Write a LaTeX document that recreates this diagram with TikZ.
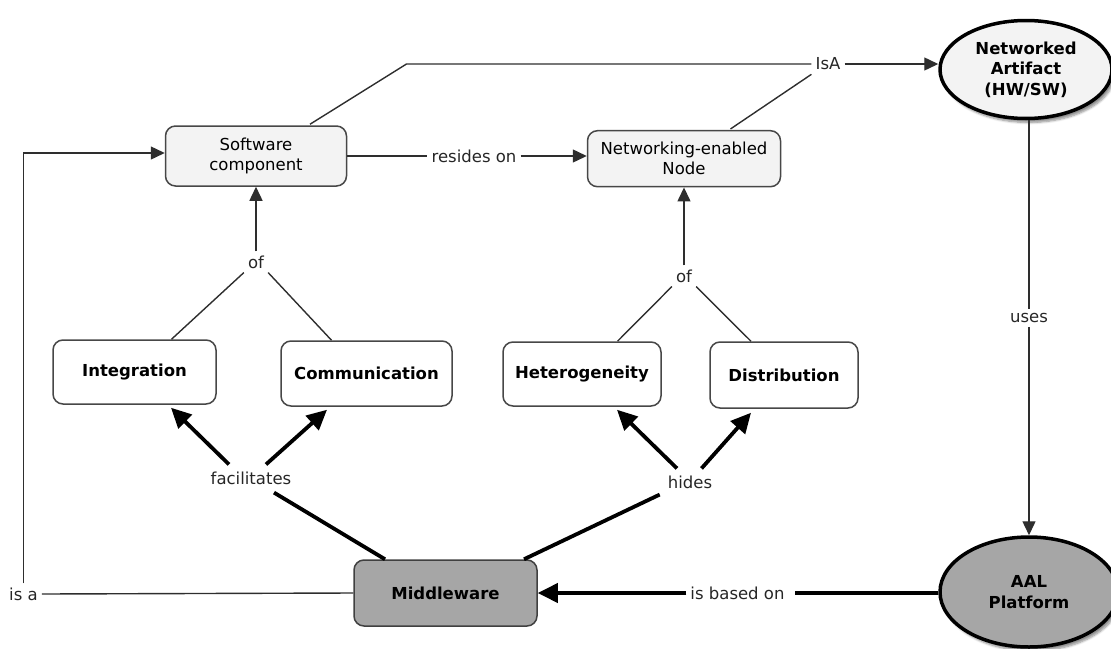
\documentclass[tikz,border=0pt]{standalone}
\usepackage{fontspec}
\setmainfont{DejaVu Sans}
\usetikzlibrary{arrows.meta,calc,shapes.geometric,shadows.blur}

\definecolor{linkgray}{HTML}{2E2E2E}
\definecolor{textgray}{HTML}{262626}
\definecolor{paper}{HTML}{F3F3F3}
\definecolor{darkfill}{HTML}{A6A6A6}
\definecolor{boxline}{HTML}{474747}

\begin{document}
\begin{tikzpicture}[x=1pt,y=-1pt,
  every node/.style={font=\fontsize{16.5}{20}\selectfont, text=black},
  concept/.style={draw=boxline, line width=1.5pt, rounded corners=10pt,
    align=center, inner sep=2pt},
  plainbox/.style={concept, fill=white, font=\fontsize{16.5}{20}\selectfont\bfseries},
  oval/.style={ellipse, draw=black, line width=3.5pt, align=center, inner sep=0pt,
    font=\fontsize{16.5}{20.5}\selectfont\bfseries,
    blur shadow={shadow xshift=3pt, shadow yshift=-4pt, shadow blur steps=6, shadow opacity=45}},
  lbl/.style={inner sep=4pt, text=textgray},
  link/.style={draw=linkgray, line width=1.4pt},
  linkarrow/.style={link, -{Triangle[length=14pt, width=13pt]}},
  heavy/.style={draw=black, line width=3.8pt},
  heavyarrow/.style={heavy, -{Triangle[length=20pt, width=19pt]}}
]
\useasboundingbox (0,0) rectangle (1111,648);

% concepts
\node[concept, fill=paper, minimum width=181pt, minimum height=60pt] (sw) at (256,156) {Software\\component};
\node[concept, fill=paper, minimum width=193pt, minimum height=56pt] (nen) at (684,158.7) {Networking-enabled\\Node};
\node[oval, fill=paper, minimum width=172pt, minimum height=98pt] (art) at (1026,69.5) {Networked\\Artifact\\(HW/SW)};
\node[oval, fill=darkfill, minimum width=178pt, minimum height=110pt] (aal) at (1029,592) {AAL\\Platform};
\node[plainbox, minimum width=163pt, minimum height=64pt] (int) at (134.5,372) {Integration};
\node[plainbox, minimum width=171pt, minimum height=65pt] (com) at (366.5,373.5) {Communication};
\node[plainbox, minimum width=158pt, minimum height=64pt] (het) at (582,374) {Heterogeneity};
\node[plainbox, minimum width=148pt, minimum height=66pt] (dis) at (784,375) {Distribution};
\node[plainbox, fill=darkfill, draw=black!75, minimum width=183pt, minimum height=66pt] (mw) at (445.5,593) {Middleware};

% linking phrases
\node[lbl] (of1) at (256,262) {of};
\node[lbl] (of2) at (684,276) {of};
\node[lbl] (res) at (474,156) {resides on};
\node[lbl] (isA) at (828,64) {IsA};
\node[lbl] (uses) at (1029,318) {uses};
\node[lbl] (fac) at (251,478) {facilitates};
\node[lbl] (hid) at (690,482) {hides};
\node[lbl] (based) at (737.5,593) {is based on};
\node[lbl] (isa) at (23.5,594) {is a};
\coordinate (knee) at (406.5,64);

% Software component side
\draw[linkarrow] (of1.north) -- (of1.north |- sw.south);
\draw[link] (of1.south west) -- ($(int.north)+(37,0)$);
\draw[link] (of1.south east) -- ($(com.north)+(-35,0)$);

% Node side
\draw[linkarrow] (of2.north) -- (of2.north |- nen.south);
\draw[link] (of2.south west) -- ($(het.north)+(35.5,0)$);
\draw[link] (of2.south east) -- ($(dis.north)+(-33,0)$);

% resides on
\draw[link] (sw.east) -- (sw.east -| res.west);
\draw[linkarrow] (res.east) -- (res.east -| nen.west);

% IsA
\draw[link] ($(sw.north)+(54,-1)$) -- (knee) -- (isA.west);
\draw[link] ($(nen.north)+(46.5,-1)$) -- (isA.south west);
\draw[linkarrow] (isA.east) -- (isA.east -| art.west);

% uses
\draw[link] (uses.north |- art.south) -- (uses.north);
\draw[linkarrow] (uses.south) -- (uses.south |- aal.north);

% facilitates
\draw[heavy] ($(mw.north)+(-60.5,0)$) -- ($(fac.south)+(23,4)$);
\draw[heavyarrow] ($(fac.north)+(-22,-3)$) -- ($(int.south)+(36.5,3)$);
\draw[heavyarrow] ($(fac.north)+(15,-3)$) -- ($(com.south)+(-39.5,3)$);

% hides
\draw[heavy] ($(mw.north)+(78.5,0)$) -- ($(hid.south west)+(-4,2)$);
\draw[heavyarrow] ($(hid.north)+(-13,-3)$) -- ($(het.south)+(35,3)$);
\draw[heavyarrow] ($(hid.north)+(11.5,-3)$) -- ($(dis.south)+(-33,4)$);

% is based on
\draw[heavy] (aal.west |- based.east) -- ($(based.east)+(6,0)$);
\draw[heavyarrow] (based.west) -- (based.west -| mw.east);

% is a
\draw[link] (mw.west) -- (isa.east);
\draw[linkarrow] (isa.north) |- ($(sw.west)+(0,-3)$);
\end{tikzpicture}
\end{document}
